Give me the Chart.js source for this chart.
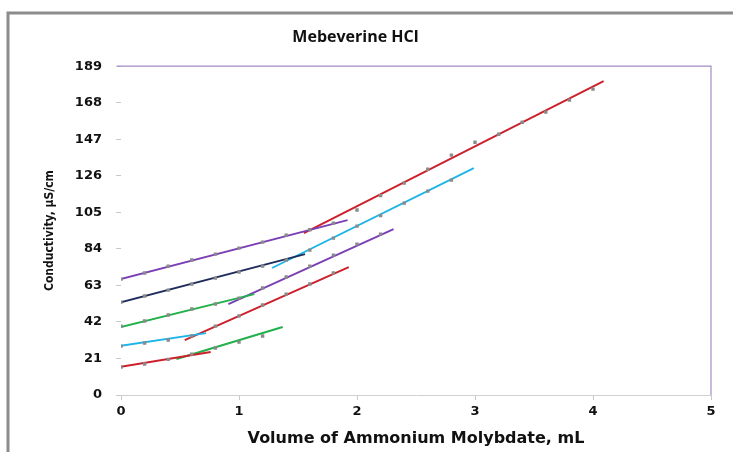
<!DOCTYPE html>
<html>
<head>
<meta charset="utf-8">
<script src="https://cdn.jsdelivr.net/npm/chart.js@4.4.1/dist/chart.umd.min.js"></script>
<style>
  html, body { margin: 0; padding: 0; background: #ffffff; }
  #wrap { position: relative; width: 733px; height: 452px; }
</style>
</head>
<body>
<div id="wrap"><canvas id="c" width="733" height="452"></canvas></div>
<script>
// ---- data ----
const chartTitle = "Mebeverine HCl";
const xAxisTitle = "Volume of Ammonium Molybdate, mL";
const yAxisTitle = "Conductivity, µS/cm";
const yTicks = [0, 21, 42, 63, 84, 105, 126, 147, 168, 189];
const xTicks = [0, 1, 2, 3, 4, 5];

// measured points of the five titrations
const runAx = [0, 0.2, 0.4, 0.6, 0.8, 1.0, 1.2];
const runAy = [16.1, 17.8, 20.5, 23.5, 27.0, 30.4, 33.9];
const runBx = [0, 0.2, 0.4, 0.6, 0.8, 1.0, 1.2, 1.4, 1.6, 1.8];
const runBy = [28.1, 29.9, 31.6, 33.9, 39.6, 45.4, 51.7, 58.0, 63.8, 70.1];
const runCx = [0, 0.2, 0.4, 0.6, 0.8, 1.0, 1.2, 1.4, 1.6, 1.8, 2.0, 2.2];
const runCy = [39.6, 42.5, 46.0, 49.4, 52.3, 55.7, 61.5, 67.8, 74.1, 80.4, 86.7, 92.5];
const runDx = [0, 0.2, 0.4, 0.6, 0.8, 1.0, 1.2, 1.4, 1.6, 1.8, 2.0, 2.2, 2.4, 2.6, 2.8];
const runDy = [53.4, 56.9, 60.3, 63.8, 67.2, 70.7, 74.1, 77.6, 83.3, 90.2, 97.1, 103.1, 110.3, 117.2, 123.5];
const runEx = [0, 0.2, 0.4, 0.6, 0.8, 1.0, 1.2, 1.4, 1.6, 1.8, 2.0, 2.2, 2.4, 2.6, 2.8, 3.0, 3.2, 3.4, 3.6, 3.8, 4.0];
const runEy = [66.6, 70.1, 74.1, 77.6, 81.0, 84.4, 87.9, 91.9, 95.0, 98.8, 106.3, 114.6, 121.8, 129.8, 137.9, 145.3, 149.9, 156.8, 162.6, 169.5, 175.8];

// fitted trend-line segments (start/end in data units)
const segX0 = [-0.07, 0.47, -0.07, 0.54, -0.07, 0.91, -0.06, 1.28, -0.07, 1.55];
const segX1 = [0.76, 1.37, 0.72, 1.93, 1.13, 2.31, 1.56, 2.99, 1.92, 4.09];
const segY0 = [15.5, 20.7, 27.6, 31.6, 37.9, 52.3, 52.3, 73.0, 65.5, 93.1];
const segY1 = [24.7, 39.1, 35.6, 73.5, 58.0, 95.4, 81.0, 130.4, 100.5, 180.4];

// ---- styles ----
const segColors = ['#cc1f2a', '#22b04b', '#1db4e8', '#cc1f2a', '#22b04b', '#7b3fb5', '#1f2d5c', '#1db4e8', '#7b3fb5', '#cc1f2a'];
const markerColor = '#8a8a8a';
const FONT = "'Open Sans', 'DejaVu Sans', sans-serif";
const WIDE = "'DejaVu Sans', 'Open Sans', sans-serif";

function pts(xs, ys) { return xs.map((x, i) => ({ x: x, y: ys[i] })); }

const datasets = [];
[[runAx, runAy], [runBx, runBy], [runCx, runCy], [runDx, runDy], [runEx, runEy]].forEach(function (r) {
  datasets.push({
    data: pts(r[0], r[1]),
    showLine: false,
    pointStyle: 'rect',
    pointRadius: 2.4,
    pointBackgroundColor: markerColor,
    pointBorderWidth: 0
  });
});
for (let i = 0; i < segX0.length; i++) {
  datasets.push({
    data: [{ x: segX0[i], y: segY0[i] }, { x: segX1[i], y: segY1[i] }],
    showLine: true,
    borderColor: segColors[i],
    borderWidth: 1.9,
    pointRadius: 0,
    fill: false
  });
}

const framePlugin = {
  id: 'frame',
  beforeDraw(chart) {
    const ctx = chart.ctx;
    ctx.save();
    ctx.fillStyle = '#ffffff';
    ctx.fillRect(0, 0, chart.width, chart.height);
    ctx.strokeStyle = '#8c8c8c';
    ctx.lineWidth = 3;
    ctx.beginPath();
    ctx.moveTo(8, chart.height);
    ctx.lineTo(8, 13);
    ctx.lineTo(chart.width, 13);
    ctx.stroke();
    ctx.restore();
  },
  afterDraw(chart) {
    const a = chart.chartArea;
    const ctx = chart.ctx;
    ctx.save();
    ctx.strokeStyle = '#a48cc4';
    ctx.lineWidth = 1.2;
    ctx.beginPath();
    ctx.moveTo(a.left - 4, a.top);
    ctx.lineTo(a.right, a.top);
    ctx.lineTo(a.right, a.bottom);
    ctx.stroke();
    ctx.restore();
  }
};

new Chart(document.getElementById('c'), {
  type: 'scatter',
  data: { datasets: datasets },
  options: {
    responsive: false,
    animation: false,
    layout: { padding: { left: 0, right: 22, top: 0, bottom: 0 } },
    plugins: {
      legend: { display: false },
      tooltip: { enabled: false },
      title: {
        display: true,
        text: chartTitle,
        color: '#111111',
        font: { family: FONT, size: 16, weight: 'bold' },
        padding: { top: 28, bottom: 19 }
      }
    },
    scales: {
      x: {
        type: 'linear',
        min: 0, max: 5,
        afterBuildTicks(s) { s.ticks = xTicks.map(v => ({ value: v })); },
        afterFit(s) { s.height = 57; },
        border: { display: true, color: '#d0d0d0', width: 1 },
        grid: { display: true, drawOnChartArea: false, drawTicks: true, tickLength: 5, color: '#c8c8c8' },
        ticks: { color: '#111111', padding: 4, font: { family: WIDE, size: 13, weight: 'bold' } },
        title: {
          display: true, text: xAxisTitle, color: '#111111',
          font: { family: WIDE, size: 16, weight: 'bold' },
          padding: { top: 0, bottom: 4 }
        }
      },
      y: {
        type: 'linear',
        min: 0, max: 189,
        afterBuildTicks(s) { s.ticks = yTicks.map(v => ({ value: v })); },
        afterFit(s) { s.width = 121; },
        border: { display: false },
        grid: { display: true, drawOnChartArea: false, drawTicks: true, tickLength: 5, color: '#c8c8c8' },
        ticks: { color: '#111111', padding: 14, font: { family: WIDE, size: 13, weight: 'bold' } },
        title: {
          display: true, text: yAxisTitle, color: '#111111',
          font: { family: "'Liberation Sans Narrow', 'DejaVu Sans Condensed', sans-serif", size: 12, weight: 'bold' },
          padding: { top: 43, bottom: 0 }
        }
      }
    }
  },
  plugins: [framePlugin]
});
</script>
</body>
</html>
